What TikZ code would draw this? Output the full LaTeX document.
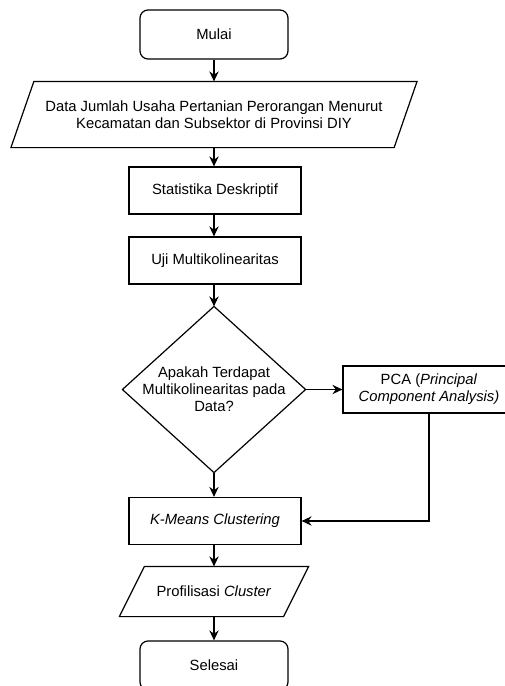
\documentclass[tikz,border=0pt]{standalone}
\usepackage{fontspec}
\setmainfont{Liberation Sans}
\usetikzlibrary{arrows.meta}
\begin{document}
\begin{tikzpicture}[x=0.75pt,y=-0.75pt,
  font=\fontsize{11.1}{12.75}\selectfont,
  line width=0.9pt,
  box/.style={draw, rectangle, minimum width=129pt, minimum height=35.25pt, inner sep=0pt, align=center},
  term/.style={box, rounded corners=6pt, minimum width=111pt, minimum height=36.75pt},
  plain/.style={rectangle, inner sep=0pt, align=center},
  conn/.style={-{Stealth[length=7.5pt,width=7pt,inset=2.5pt]}, line width=0.9pt}
]
\useasboundingbox (0,0) rectangle (505,686);
\clip (0,0) rectangle (505,686);

\node[term] (start) at (214,34.5) {Mulai};

\node[plain, minimum width=286.5pt, minimum height=48.75pt] (data) at (214,114.5)
  {Data Jumlah Usaha Pertanian Perorangan Menurut\\Kecamatan dan Subsektor di Provinsi DIY};
\draw ([xshift=8.6pt]data.north west) -- ([xshift=8.6pt]data.north east)
  -- ([xshift=-8.6pt]data.south east) -- ([xshift=-8.6pt]data.south west) -- cycle;

\node[box] (stat) at (215,190.5) {Statistika Deskriptif};
\node[box] (uji) at (215,260.5) {Uji Multikolinearitas};

\node[plain, minimum width=136.5pt, minimum height=123.75pt] (dec) at (214,389.5)
  {Apakah Terdapat\\Multikolinearitas pada\\Data?};
\draw (dec.north) -- (dec.east) -- (dec.south) -- (dec.west) -- cycle;

\node[box] (pca) at (429,389.5) {PCA (\textit{Principal}\\\textit{Component Analysis)}};

\node[box] (km) at (215,521) {\textit{K-Means Clustering}};

\node[plain, minimum width=122.25pt, minimum height=36.75pt] (prof) at (214,591.5)
  {Profilisasi \textit{Cluster}};
\draw ([xshift=9.4pt]prof.north west) -- ([xshift=9.4pt]prof.north east)
  -- ([xshift=-9.4pt]prof.south east) -- ([xshift=-9.4pt]prof.south west) -- cycle;

\node[term] (end) at (214,665.5) {Selesai};

\draw[conn] (start.south) -- (data.north);
\draw[conn] (data.south) -- (stat.north -| data.south);
\draw[conn] (stat.south -| data.south) -- (uji.north -| data.south);
\draw[conn] (uji.south -| data.south) -- (dec.north);
\draw[conn] (dec.east) -- (pca.west);
\draw[conn] (pca.south) |- (km.east);
\draw[conn] (dec.south) -- (km.north -| dec.south);
\draw[conn] (km.south -| dec.south) -- (prof.north);
\draw[conn] (prof.south) -- (end.north);
\end{tikzpicture}
\end{document}
